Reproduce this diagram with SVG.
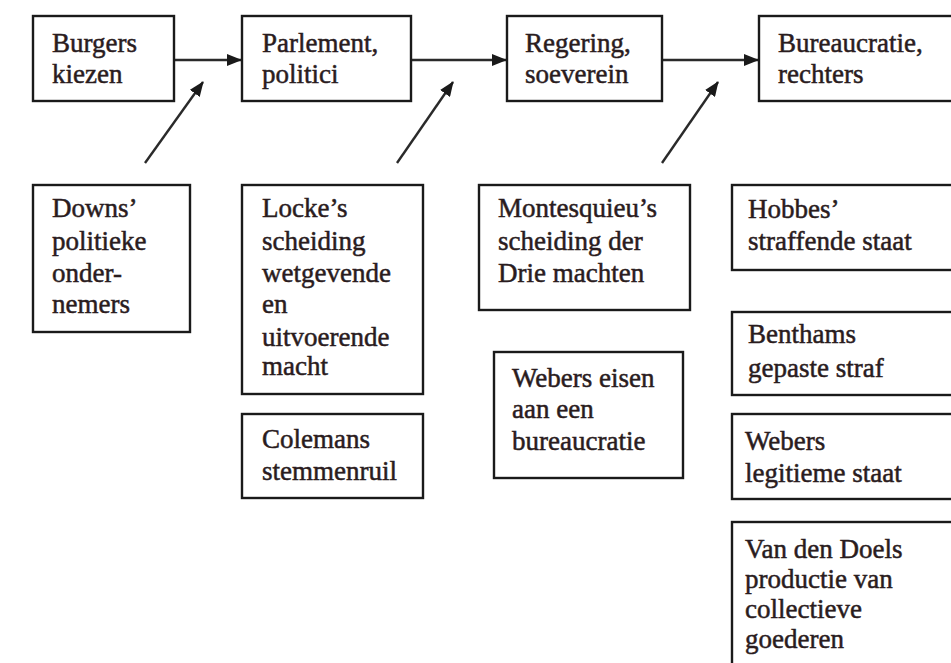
<svg xmlns="http://www.w3.org/2000/svg" width="951" height="663" viewBox="0 0 951 663">
<style>
.box{fill:#fff;stroke:#1a1a1a;stroke-width:2.4}
.t{font-family:"Liberation Serif","Times New Roman",serif;font-size:27px;fill:#2a1c1e;stroke:#2a1c1e;stroke-width:0.5}
.c{stroke:#2a2a2a;stroke-width:2.4;fill:none}
</style>
<defs>
<marker id="ah" markerWidth="15" markerHeight="12" refX="14" refY="6" orient="auto" markerUnits="userSpaceOnUse">
<path d="M0,0 L15,6 L0,12 Z" fill="#1a1a1a"/>
</marker>
</defs>
<rect width="951" height="663" fill="#fff"/>
<g id="connectors">
<line class="c" x1="174" y1="60" x2="241" y2="60" marker-end="url(#ah)"/>
<line class="c" x1="411" y1="60" x2="506" y2="60" marker-end="url(#ah)"/>
<line class="c" x1="662" y1="60" x2="758" y2="60" marker-end="url(#ah)"/>
<line class="c" x1="145" y1="163" x2="203" y2="82" marker-end="url(#ah)"/>
<line class="c" x1="397" y1="163" x2="453" y2="82" marker-end="url(#ah)"/>
<line class="c" x1="662" y1="163" x2="718" y2="82" marker-end="url(#ah)"/>
</g>
<g id="burgers">
<rect class="box" x="33" y="16" width="141" height="85"/>
<text class="t" x="52" y="52">Burgers</text>
<text class="t" x="52" y="83">kiezen</text>
</g>
<g id="parlement">
<rect class="box" x="242" y="16" width="169" height="85"/>
<text class="t" x="262" y="52">Parlement,</text>
<text class="t" x="262" y="83">politici</text>
</g>
<g id="regering">
<rect class="box" x="507" y="16" width="155" height="85"/>
<text class="t" x="525" y="52">Regering,</text>
<text class="t" x="525" y="83">soeverein</text>
</g>
<g id="bureaucratie">
<rect class="box" x="759" y="16" width="200" height="85"/>
<text class="t" x="778" y="52">Bureaucratie,</text>
<text class="t" x="778" y="83">rechters</text>
</g>
<g id="downs">
<rect class="box" x="33" y="185" width="157" height="147"/>
<text class="t" x="52" y="217">Downs’</text>
<text class="t" x="52" y="250">politieke</text>
<text class="t" x="52" y="282">onder-</text>
<text class="t" x="52" y="313">nemers</text>
</g>
<g id="locke">
<rect class="box" x="242" y="185" width="181" height="209"/>
<text class="t" x="262" y="217">Locke’s</text>
<text class="t" x="262" y="250">scheiding</text>
<text class="t" x="262" y="282">wetgevende</text>
<text class="t" x="262" y="313">en</text>
<text class="t" x="262" y="346">uitvoerende</text>
<text class="t" x="262" y="375">macht</text>
</g>
<g id="coleman">
<rect class="box" x="242" y="414" width="181" height="84"/>
<text class="t" x="262" y="448">Colemans</text>
<text class="t" x="262" y="480">stemmenruil</text>
</g>
<g id="montesquieu">
<rect class="box" x="479" y="185" width="211" height="125"/>
<text class="t" x="498" y="217">Montesquieu’s</text>
<text class="t" x="498" y="250">scheiding der</text>
<text class="t" x="498" y="282">Drie machten</text>
</g>
<g id="weber-bureaucratie">
<rect class="box" x="494" y="352" width="189" height="126"/>
<text class="t" x="512" y="387">Webers eisen</text>
<text class="t" x="512" y="418">aan een</text>
<text class="t" x="512" y="450">bureaucratie</text>
</g>
<g id="hobbes">
<rect class="box" x="732" y="185" width="230" height="85"/>
<text class="t" x="748" y="218">Hobbes’</text>
<text class="t" x="748" y="250">straffende staat</text>
</g>
<g id="bentham">
<rect class="box" x="732" y="312" width="230" height="83"/>
<text class="t" x="748" y="343">Benthams</text>
<text class="t" x="748" y="377">gepaste straf</text>
</g>
<g id="weber-staat">
<rect class="box" x="732" y="414" width="230" height="85"/>
<text class="t" x="745" y="450">Webers</text>
<text class="t" x="745" y="482">legitieme staat</text>
</g>
<g id="vandendoel">
<rect class="box" x="732" y="522" width="230" height="150"/>
<text class="t" x="745" y="558">Van den Doels</text>
<text class="t" x="745" y="588">productie van</text>
<text class="t" x="745" y="618">collectieve</text>
<text class="t" x="745" y="648">goederen</text>
</g>
</svg>
